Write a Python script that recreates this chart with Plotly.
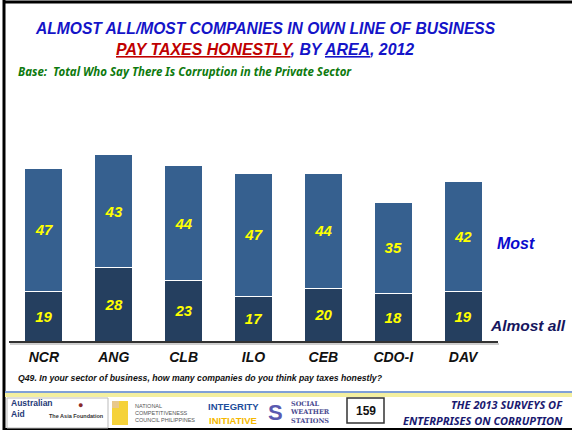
import plotly.graph_objects as go

areas = ["NCR", "ANG", "CLB", "ILO", "CEB", "CDO-I", "DAV"]
almost_all = [19, 28, 23, 17, 20, 18, 19]
most = [47, 43, 44, 47, 44, 35, 42]

W, H = 572, 430
def px(x):
    return x / W
def py(y):
    return 1 - y / H

C_MOST = "#36608F"
C_ALL = "#253F5F"
FONT = "Liberation Sans, Arial, sans-serif"

fig = go.Figure()
fig.add_trace(go.Bar(
    x=areas, y=almost_all, name="Almost all",
    marker=dict(color=C_ALL, line=dict(color="white", width=1)),
    text=[f"<b><i>{v}</i></b>" for v in almost_all],
    textposition="inside", insidetextanchor="middle",
    textfont=dict(color="#FFFF00", size=15, family=FONT),
    width=0.545,
))
fig.add_trace(go.Bar(
    x=areas, y=most, name="Most",
    marker=dict(color=C_MOST, line=dict(color="white", width=1)),
    text=[f"<b><i>{v}</i></b>" for v in most],
    textposition="inside", insidetextanchor="middle",
    textfont=dict(color="#FFFF00", size=15, family=FONT),
    width=0.545,
))

shapes = [
    # slide frame
    dict(type="line", xref="paper", yref="paper", x0=px(4), x1=px(4), y0=py(0), y1=py(430),
         line=dict(color="black", width=3)),
    dict(type="line", xref="paper", yref="paper", x0=px(3), x1=px(572), y0=py(2), y1=py(2),
         line=dict(color="black", width=3)),
    dict(type="line", xref="paper", yref="paper", x0=px(3), x1=px(572), y0=py(429), y1=py(429),
         line=dict(color="black", width=2)),
    # axis shadow
    dict(type="line", xref="paper", yref="paper", x0=px(10), x1=px(499), y0=py(344), y1=py(344),
         line=dict(color="#CFCFCF", width=2)),
    # footer band
    dict(type="rect", xref="paper", yref="paper", x0=px(5), x1=px(572), y0=py(392), y1=py(397),
         fillcolor="#F3EFA0", line=dict(width=0)),
    dict(type="line", xref="paper", yref="paper", x0=px(5), x1=px(572), y0=py(392), y1=py(392),
         line=dict(color="#7FA0D8", width=2)),
    # Australian Aid box
    dict(type="rect", xref="paper", yref="paper", x0=px(7), x1=px(108), y0=py(398), y1=py(428),
         fillcolor="white", line=dict(color="#BBBBBB", width=1)),
    # NCC squares
    dict(type="rect", xref="paper", yref="paper", x0=px(112), x1=px(128), y0=py(401), y1=py(425),
         fillcolor="#F5D23A", line=dict(width=0)),
    dict(type="rect", xref="paper", yref="paper", x0=px(112), x1=px(119), y0=py(401), y1=py(408),
         fillcolor="#E8C88A", line=dict(width=0)),
    # 159 box
    dict(type="rect", xref="paper", yref="paper", x0=px(347), x1=px(384), y0=py(398), y1=py(423),
         fillcolor="white", line=dict(color="#333333", width=1.5)),
]

def ann(text, x, y, size, color, xanchor="center", family=FONT, align="center"):
    return dict(text=text, x=px(x), y=py(y), xref="paper", yref="paper", showarrow=False,
                xanchor=xanchor, yanchor="middle", align=align,
                font=dict(size=size, color=color, family=family))

annotations = [
    ann("<b><i>ALMOST ALL/MOST COMPANIES IN OWN LINE OF BUSINESS</i></b>", 265, 28, 15.6, "#1414C8"),
    ann("<b><i><span style='color:#C00000'><u>PAY TAXES HONESTLY</u></span>, BY <u>AREA</u>, 2012</i></b>",
        265, 49, 15.9, "#1414C8"),
    ann("<b><i>Base:  Total Who Say There Is Corruption in the Private Sector</i></b>", 16, 72, 11.5,
        "#0E7A0E", xanchor="left", family="Noto Sans, sans-serif"),
    ann("<b><i>Most</i></b>", 495, 244, 16, "#0A0ACC", xanchor="left"),
    ann("<b><i>Almost all</i></b>", 488, 325, 15.5, "#16165E", xanchor="left"),
    ann("<b><i>Q49. In your sector of business, how many companies do you think pay taxes honestly?</i></b>",
        16, 378, 8.7, "#111111", xanchor="left"),
    # footer logos (text approximations)
    ann("<b>Australian<br>Aid</b>", 9, 408, 8.5, "#1F3A78", xanchor="left", align="left"),
    ann("<b>The Asia Foundation</b>", 106, 416, 5.5, "#333333", xanchor="right"),
    ann("●", 80, 405, 9, "#8B2A2A"),
    ann("NATIONAL<br>COMPETITIVENESS<br>COUNCIL PHILIPPINES", 133, 413, 5.5, "#555555",
        xanchor="left", align="left"),
    ann("<b>INTEGRITY</b>", 233, 406, 9.5, "#1E4E9C"),
    ann("<b>INITIATIVE</b>", 233, 420, 9.5, "#F5B800"),
    ann("<b>S</b>", 275, 412, 22, "#5A5AB0"),
    ann("<b>SOCIAL<br>WEATHER<br>STATIONS</b>", 288, 412, 6.5, "#4A4A90", xanchor="left", align="left",
        family="DejaVu Serif, serif"),
    ann("<b>159</b>", 365.5, 410.5, 12, "#111111"),
    ann("<b><i>THE 2013 SURVEYS OF</i></b>", 565, 404, 11, "#1A1A70", xanchor="right",
        family="Noto Sans, sans-serif"),
    ann("<b><i>ENTERPRISES ON CORRUPTION</i></b>", 565, 420, 11, "#1A1A70", xanchor="right",
        family="Noto Sans, sans-serif"),
]

fig.update_layout(
    width=W, height=H, barmode="stack", showlegend=False,
    margin=dict(l=0, r=0, t=0, b=0),
    paper_bgcolor="white", plot_bgcolor="white",
    xaxis=dict(
        domain=[px(9), px(498)], range=[-0.5, 6.5], type="category",
        tickmode="array", tickvals=areas, ticktext=[f"<b><i>{a}</i></b>" for a in areas],
        tickfont=dict(size=14, color="#111111", family=FONT),
        showline=True, linecolor="#333333", linewidth=2, ticks="", showgrid=False,
        ticklabelstandoff=2,
    ),
    yaxis=dict(
        domain=[py(341), py(131.4)], range=[0, 80], visible=False, showgrid=False,
    ),
    shapes=shapes, annotations=annotations,
)

fig.write_html(
    "out.html",
    config={"displayModeBar": False},
    post_script="document.body.style.margin='0';document.body.style.overflow='hidden';",
)
